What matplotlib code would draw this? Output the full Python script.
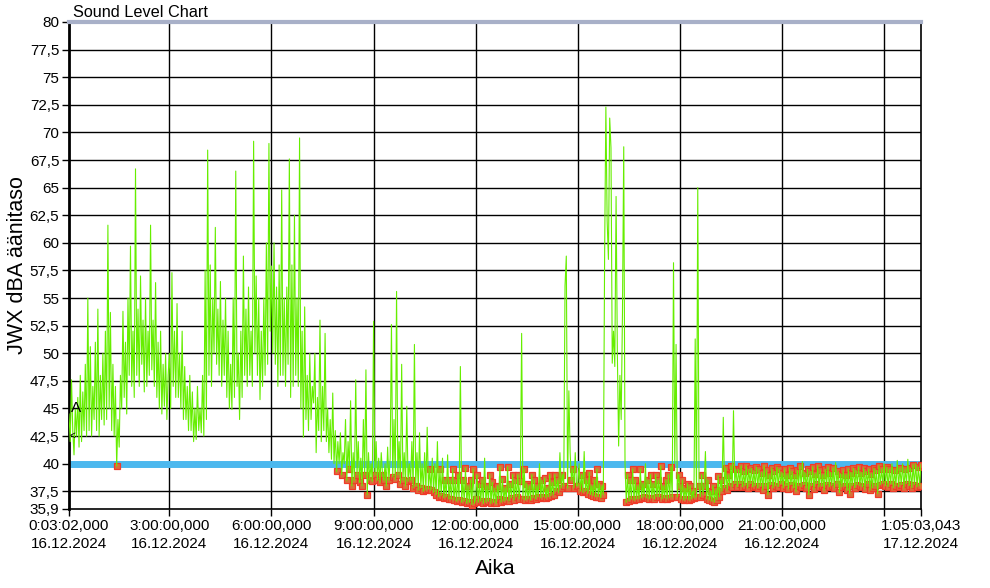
import numpy as np
import matplotlib
matplotlib.use("Agg")
import matplotlib.pyplot as plt

plt.rcParams['font.family'] = ['Liberation Sans', 'DejaVu Sans']

# block edges in hours since 16.12.2024 00:00
block_edges = [0.0506, 3, 6, 9, 12, 15, 18, 21, 24, 25.0842]

# dBA readings, one list per 3 hour block
lvl_00_03 = [44.5, 42, 47.6, 43, 40.8, 45, 42.5, 46, 41.5, 48, 42, 46.5, 43, 49, 42.5, 55,
             43, 50.6, 42.5, 47, 44, 51, 43, 54, 42.5, 48, 44, 50, 43.5, 52, 44, 61.6,
             45, 53.7, 43, 49, 42.5, 47, 39.8, 44, 41.5, 48, 45, 53.8, 46, 51, 44.5, 55,
             48, 59.7, 47, 52, 46, 66.7, 48, 54, 47, 57, 49, 53, 46.5, 55, 47, 52,
             48, 61.6, 48.5, 53, 47, 56.4, 46, 51, 45, 52, 44.5, 49, 45.2, 50, 44, 48]
lvl_03_06 = [50, 45, 57.3, 47, 52, 46, 54.5, 46, 50, 45, 52, 44, 48.8, 44, 47, 43,
             48, 43, 46.5, 42, 45, 42.2, 47, 43, 45, 42.8, 48, 42.5, 57.5, 44, 68.4, 48,
             58, 47, 55, 50, 61.4, 49, 54, 48, 56.5, 47, 53, 48, 55, 46, 52, 45,
             49, 44.9, 55, 46, 66.5, 47, 50, 44, 52, 46, 58.8, 48, 54, 47, 56, 48,
             52, 47, 69.2, 50, 57, 48, 55, 45.8, 52, 47, 55, 48, 60, 49, 69, 52]
lvl_06_09 = [57.9, 50, 60, 49, 56, 47, 58, 48, 64.8, 48, 55, 47, 56, 49, 67.6, 46,
             58, 47, 62.5, 48, 55, 47, 69.5, 45, 52, 42.4, 54.2, 44, 48, 43, 50, 44,
             47, 45.5, 50, 41, 46, 43, 53, 42, 47, 43, 51.8, 42, 45, 41, 44, 40.4,
             46.4, 40, 43, 39.3, 42, 40, 42.8, 39, 41, 40, 44, 38.5, 42, 39.5, 45.7, 38,
             41, 38.5, 47.6, 39, 42, 38.3, 40.5, 38, 44, 39, 48.5, 37.2, 41, 38.5, 40, 38.4]
lvl_09_12 = [52.9, 39, 42, 38.5, 40.5, 38.3, 41, 39, 38.5, 40, 38, 41.5, 38.5, 40.5, 52.6, 38.8,
             44, 38.6, 55.6, 39, 42, 38.2, 49, 38.5, 41, 38, 45.2, 38.4, 40, 38.5, 42, 37.8,
             50.8, 38, 41, 37.6, 42.8, 37.8, 40, 37.5, 41, 37.6, 43.3, 37.7, 39.5, 37.6, 40.5, 37.4,
             40, 37.2, 42, 37, 39.5, 37.1, 40.5, 36.9, 38.5, 37, 40.8, 36.8, 38.5, 36.8, 39.5, 36.7,
             38.5, 36.6, 39, 36.7, 48.8, 36.5, 38.5, 36.6, 39.6, 36.4, 38, 36.5, 38.5, 36.3, 39.5, 36.4]
lvl_12_15 = [36.8, 39, 36.5, 38.2, 36.6, 38.5, 36.4, 40.5, 36.5, 38, 36.6, 39, 36.4, 38.3, 36.5, 37.8,
             36.4, 38, 36.8, 39.7, 36.5, 38.6, 36.6, 37.8, 36.7, 39.7, 36.6, 38.2, 36.9, 39, 36.7, 38.5,
             37, 39, 36.8, 38.4, 51.8, 36.8, 39.5, 36.7, 38.2, 36.8, 38, 36.7, 39, 36.9, 38.5, 36.8,
             38, 37, 40, 36.9, 38.5, 37, 38.7, 36.9, 37.8, 37, 39, 37.1, 38.3, 37.2, 39, 37.5,
             38.5, 37.4, 41, 37.8, 39, 38, 56.1, 58.8, 37.8, 46.6, 41, 38.5, 39.5, 37.8, 41, 38]
lvl_15_18 = [38, 40, 37.5, 39, 37.4, 41.1, 37.5, 38.5, 37.3, 39.2, 37.2, 38, 37.1, 38.5, 37, 39.5,
             37, 38.2, 36.9, 38, 37.2, 58.5, 72.3, 62, 58.5, 71.3, 68.6, 49.1, 52, 48.8, 64.2, 50,
             41.6, 48, 44, 53.6, 68.7, 40, 36.5, 39, 36.6, 38.5, 36.8, 39.5, 36.7, 38.5, 36.8, 38,
             36.8, 39.5, 36.9, 38.2, 37, 40, 36.9, 38.5, 36.8, 39, 36.9, 38.2, 36.8, 39, 37, 38.5,
             37, 39.8, 36.8, 38, 36.9, 38.5, 36.8, 39, 36.9, 39.7, 37, 58.2, 40, 50.8, 37, 39]
lvl_18_21 = [38, 36.8, 38.5, 36.7, 37.8, 36.8, 38.2, 36.7, 38, 36.8, 37.5, 36.9, 51.3, 37, 65, 38,
             37, 39, 37.2, 38, 41.1, 36.8, 38.5, 36.7, 37.5, 36.6, 38, 36.5, 37.6, 36.7, 38.9, 37,
             38.5, 37.5, 44.2, 37.8, 39.6, 37.6, 39, 38, 39.8, 37.9, 44.8, 38.2, 39.5, 37.9, 39.5, 38.2,
             39.8, 37.9, 39.3, 38, 39.8, 37.8, 39.5, 38.2, 39.6, 37.9, 39.4, 38, 39.7, 37.8, 39.5, 38,
             39.2, 37.6, 39.8, 38, 39.4, 37.2, 39, 38.1, 39.6, 37.8, 39.3, 38, 39.7, 37.9, 39.5, 38.2]
lvl_21_24 = [39.2, 37.8, 39.5, 38, 39, 37.7, 39.6, 38.1, 39.3, 37.8, 39, 37.5, 39.4, 38, 39.8, 37.9,
             40.2, 38.1, 39.2, 37.8, 39.5, 37.2, 39.3, 38, 39.7, 37.7, 39.1, 38.2, 39.8, 37.9, 39.4, 38,
             39, 37.6, 39.5, 38.1, 39.7, 37.9, 39.2, 38, 39.6, 37.8, 40.1, 38.2, 39.3, 37.4, 39.1, 37.9,
             39.4, 38, 39, 37.6, 39.5, 37.3, 39.2, 38, 39.6, 37.8, 39.4, 38.1, 39.7, 38, 39.2, 37.9,
             39.6, 37.7, 39.3, 38.2, 39.5, 37.6, 39.1, 37.8, 39.6, 38, 39.4, 37.3, 39.8, 38.1, 39.5, 38.2]
lvl_24_end = [40, 38, 39.7, 37.9, 39.5, 38.2, 40, 37.8, 39.4, 38, 40.3, 37.9, 39.6, 38.1, 40,
              37.8, 39.5, 38.2, 40.4, 38, 39.6, 37.8, 39.9, 38.1, 40, 37.9, 39.7, 38, 39.9]

blocks = [lvl_00_03, lvl_03_06, lvl_06_09, lvl_09_12, lvl_12_15,
          lvl_15_18, lvl_18_21, lvl_21_24, lvl_24_end]

limit_db = 40

tick_hours = [0.0506, 3, 6, 9, 12, 15, 18, 21, 24, 25.0842]
tick_labels = ["0:03:02,000\n16.12.2024", "3:00:00,000\n16.12.2024",
               "6:00:00,000\n16.12.2024", "9:00:00,000\n16.12.2024",
               "12:00:00,000\n16.12.2024", "15:00:00,000\n16.12.2024",
               "18:00:00,000\n16.12.2024", "21:00:00,000\n16.12.2024",
               "", "1:05:03,043\n17.12.2024"]
y_ticks = [35.9, 37.5, 40, 42.5, 45, 47.5, 50, 52.5, 55, 57.5, 60,
           62.5, 65, 67.5, 70, 72.5, 75, 77.5, 80]

# time axis per block
t_parts = []
for i, vals in enumerate(blocks):
    last = i == len(blocks) - 1
    t_parts.append(np.linspace(block_edges[i], block_edges[i + 1], len(vals), endpoint=last))
t = np.concatenate(t_parts)
db = np.concatenate([np.array(b, dtype=float) for b in blocks])

fig = plt.figure(figsize=(9.9, 5.88), dpi=100)
ax = fig.add_axes([0.0697, 0.1344, 0.8606, 0.8282])

# grid
for yv in y_ticks[1:-1]:
    ax.axhline(yv, color="black", lw=1, zorder=1)
for xv in tick_hours[1:-1]:
    ax.axvline(xv, color="black", lw=1, zorder=1)

ax.axhline(limit_db, color="#4cb8ee", lw=5, zorder=2)

low = db < limit_db
ax.plot(t[low], db[low], ls="none", marker="s", ms=3.8, mfc="#d8703a",
        mec="#f03a2a", mew=0.9, zorder=3)
ax.plot(t, db, color="#66ee00", lw=0.8, zorder=4)

ax.set_xlim(block_edges[0], block_edges[-1])
ax.set_ylim(35.9, 80)
ax.set_yticks(y_ticks)
ax.set_yticklabels([("%g" % v).replace(".", ",") for v in y_ticks], fontsize=11)
ax.set_xticks(tick_hours)
ax.set_xticklabels(tick_labels, fontsize=11, linespacing=1.35)
ax.tick_params(axis="both", direction="out", length=5, width=1, color="black", pad=2)

for side in ["bottom", "right"]:
    ax.spines[side].set_linewidth(1.2)
ax.spines["left"].set_linewidth(2)
ax.spines["top"].set_color("#a8b0c8")
ax.spines["top"].set_linewidth(3)

ax.set_ylabel("JWX dBA äänitaso", fontsize=15.5, labelpad=1)
ax.set_xlabel("Aika", fontsize=15, labelpad=6)
ax.text(0.005, 1.004, "Sound Level Chart", transform=ax.transAxes, fontsize=11.7,
        va="bottom", ha="left")
ax.text(0.12, 45, "A", fontsize=11, va="center", ha="left", zorder=5)
ax.text(0.0506, 42.5, "<", fontsize=7, va="center", ha="left", zorder=5)

fig.savefig("out.png", dpi=100)
